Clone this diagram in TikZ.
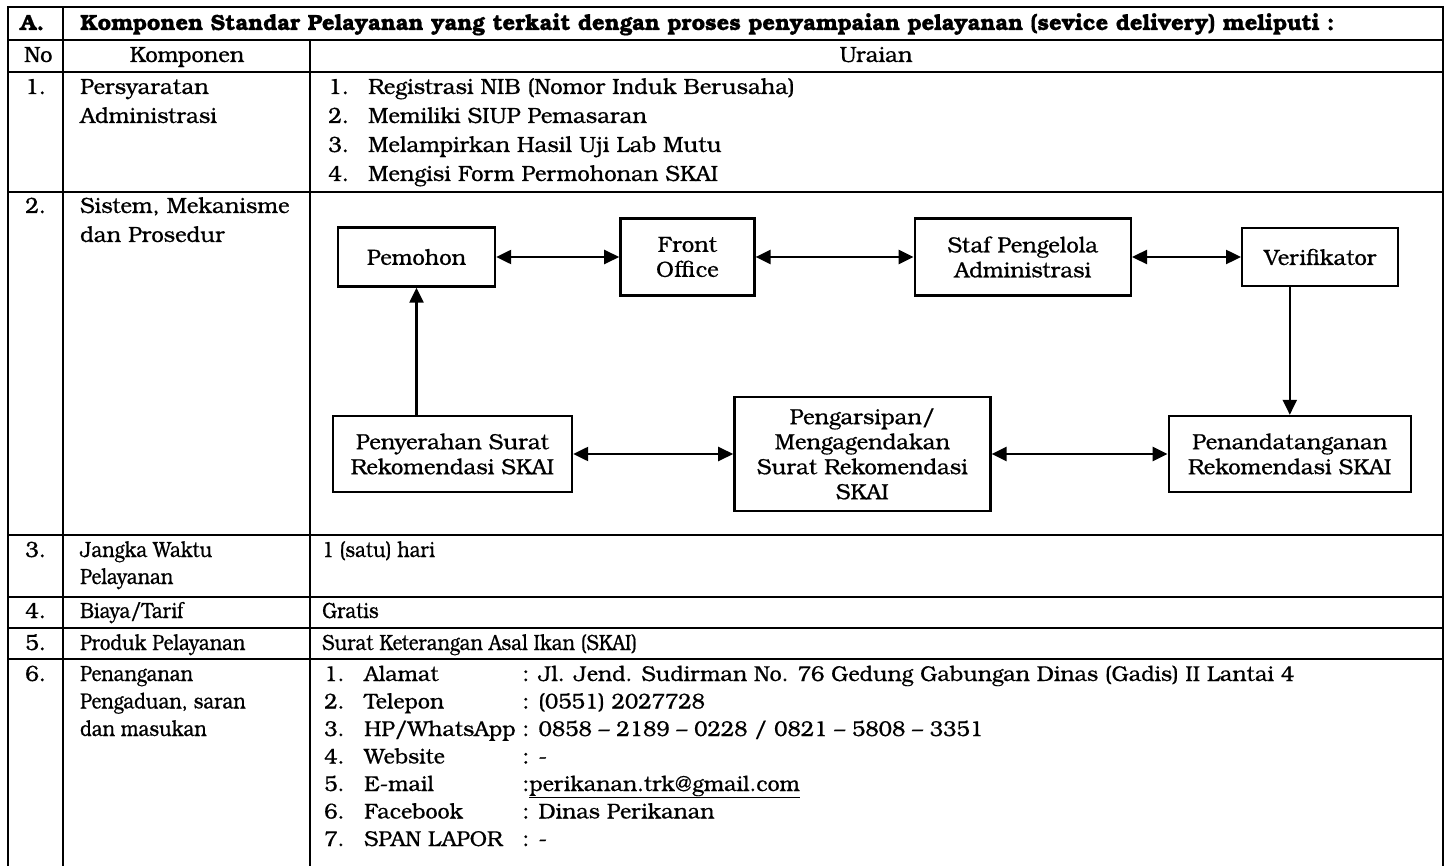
\documentclass[tikz,border=0pt]{standalone}
\usepackage{fontspec}
\setmainfont{TeX Gyre Bonum}[FakeBold=0.6]
\newfontfamily\narrowfont{TeX Gyre Bonum}[FakeStretch=0.85, FakeBold=0.6]
\usetikzlibrary{positioning}
\usetikzlibrary{arrows.meta}

\begin{document}
\begin{tikzpicture}[
  x=1pt, y=-1pt,
  cell/.style={anchor=base west, inner sep=0pt, font=\fontsize{22}{29}\selectfont},
  bcell/.style={anchor=base west, inner sep=0pt, font=\bfseries\fontsize{22}{29}\selectfont},
  ncell/.style={anchor=base west, inner sep=0pt, font=\narrowfont\fontsize{22}{28}\selectfont},
  icell/.style={anchor=base west, inner sep=0pt, font=\fontsize{21.5}{28}\selectfont},
  box/.style={draw, line width=2.4pt, align=center, inner sep=0pt, font=\fontsize{22}{25}\selectfont},
  arrow/.style={{Triangle[length=15pt,width=14pt]}-{Triangle[length=15pt,width=14pt]}, line width=2.4pt},
  onearrow/.style={-{Triangle[length=15pt,width=14pt]}, line width=2.4pt},
  rule/.style={line width=1.8pt}
]
\fill[white] (0,0) rectangle (1448,866);
\useasboundingbox (0,0) rectangle (1448,866);

% Table grid
\draw[rule] (8,866) -- (8,7) -- (1443,7) -- (1443,866);
\foreach \y in {40,72,192,535,597,628,659}
  \draw[rule] (8,\y) -- (1443,\y);
\draw[rule] (63,7) -- (63,866);
\draw[rule] (310,40) -- (310,866);

% Header rows
\node[bcell] (hA) at (20,30) {A.};
\node[bcell] (htitle) at (80,30) {Komponen Standar Pelayanan yang terkait dengan proses penyampaian pelayanan (sevice delivery) meliputi :};
\node[cell] (hno) at (24,62) {No};
\node[cell, anchor=base] (hkomp) at (187,62) {Komponen};
\node[cell, anchor=base] (hur) at (876,62) {Uraian};

% Row 1
\node[cell] (n1) at (25,94) {1.};
\node[cell] (k1a) at (80,94) {Persyaratan};
\node[cell] (k1b) at (80,123) {Administrasi};
\node[cell] (u1a) at (328,94) {\makebox[40pt][l]{1.}Registrasi NIB (Nomor Induk Berusaha)};
\node[cell] (u1b) at (328,123) {\makebox[40pt][l]{2.}Memiliki SIUP Pemasaran};
\node[cell] (u1c) at (328,152) {\makebox[40pt][l]{3.}Melampirkan Hasil Uji Lab Mutu};
\node[cell] (u1d) at (328,181) {\makebox[40pt][l]{4.}Mengisi Form Permohonan SKAI};

% Row 2
\node[cell] (n2) at (25,213) {2.};
\node[cell] (k2a) at (80,213) {Sistem, Mekanisme};
\node[cell] (k2b) at (80,242) {dan Prosedur};

% Flow (top line)
\node[box, minimum width=157pt, minimum height=59pt] (pemohon) at (416.5,257) {Pemohon};
\node[box, minimum width=134pt, minimum height=77pt, right=123pt of pemohon] (front) {Front\\Office};
\node[box, minimum width=216pt, minimum height=77pt, right=158pt of front] (staf) {Staf Pengelola\\Administrasi};
\node[box, minimum width=156pt, minimum height=58pt, right=109pt of staf] (verif) {Verifikator};

% Flow (bottom line)
\node[box, minimum width=239pt, minimum height=76pt] (serah) at (452.5,454) {Penyerahan Surat\\Rekomendasi SKAI};
\node[box, minimum width=256pt, minimum height=114pt, right=160pt of serah] (arsip) {Pengarsipan/\\Mengagendakan\\Surat Rekomendasi\\SKAI};
\node[box, minimum width=242pt, minimum height=76pt, right=176pt of arsip] (ttd) {Penandatanganan\\Rekomendasi SKAI};

\draw[arrow] (pemohon) -- (front);
\draw[arrow] (front) -- (staf);
\draw[arrow] (staf) -- (verif);
\draw[onearrow] (verif.south -| ttd) -- (ttd.north);
\draw[arrow] (arsip) -- (ttd);
\draw[arrow] (serah) -- (arsip);
\draw[onearrow] (serah.north -| pemohon) -- (pemohon.south);

% Rows 3 to 5
\node[cell] (n3) at (25,557) {3.};
\node[ncell] (k3a) at (80,557) {Jangka Waktu};
\node[ncell] (k3b) at (80,584) {Pelayanan};
\node[ncell] (u3) at (322,557) {1 (satu) hari};

\node[cell] (n4) at (25,618) {4.};
\node[ncell] (k4) at (80,618) {Biaya/Tarif};
\node[ncell] (u4) at (322,618) {Gratis};

\node[cell] (n5) at (25,650) {5.};
\node[ncell] (k5) at (80,650) {Produk Pelayanan};
\node[ncell] (u5) at (322,650) {Surat Keterangan Asal Ikan (SKAI)};

% Row 6
\node[cell] (n6) at (25,681) {6.};
\node[ncell] (k6a) at (80,681) {Penanganan};
\node[ncell] (k6b) at (80,708.5) {Pengaduan, saran};
\node[ncell] (k6c) at (80,736) {dan masukan};
\node[icell] (u6a) at (324,681) {\makebox[40pt][l]{1.}\rlap{Alamat}\phantom{HP/WhatsApp} : Jl. Jend. Sudirman No. 76 Gedung Gabungan Dinas (Gadis) II Lantai 4};
\node[icell] (u6b) at (324,708.5) {\makebox[40pt][l]{2.}\rlap{Telepon}\phantom{HP/WhatsApp} : (0551) 2027728};
\node[icell] (u6c) at (324,736) {\makebox[40pt][l]{3.}HP/WhatsApp : 0858 – 2189 – 0228 / 0821 – 5808 – 3351};
\node[icell] (u6d) at (324,763.5) {\makebox[40pt][l]{4.}\rlap{Website}\phantom{HP/WhatsApp} : -};
\node[icell] (u6e) at (324,791) {\makebox[40pt][l]{5.}\rlap{E-mail}\phantom{HP/WhatsApp} :\underline{perikanan.trk@gmail.com}};
\node[icell] (u6f) at (324,818.5) {\makebox[40pt][l]{6.}\rlap{Facebook}\phantom{HP/WhatsApp} : Dinas Perikanan};
\node[icell] (u6g) at (324,846) {\makebox[40pt][l]{7.}\rlap{SPAN LAPOR}\phantom{HP/WhatsApp} : -};

\end{tikzpicture}
\end{document}
